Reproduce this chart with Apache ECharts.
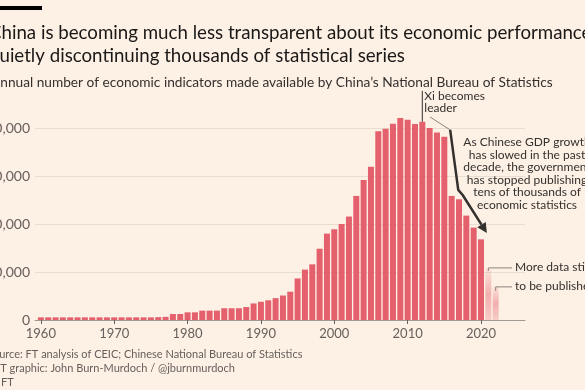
<!DOCTYPE html>
<html><head><meta charset="utf-8">
<script src="https://cdn.jsdelivr.net/npm/echarts@6/dist/echarts.min.js"></script>
<style>html,body{margin:0;padding:0;background:#fdf1e5;}#c{width:585px;height:390px;}</style>
</head><body><div id="c"></div>
<script>
const years = [];
for (let y = 1960; y <= 2022; y++) years.push(y);
const values = [
  1100,1100,1100,1100,1100,1100,1100,1100,1100,1100,
  1100,1100,1100,1100,1100,1100,1200,1300,2500,2500,
  3200,3200,3900,3900,3900,4900,4900,4900,5400,6900,
  7600,8200,9100,10200,11800,17300,21000,23200,29700,36000,
  37800,40000,43100,51700,58300,63900,78600,79700,81800,84200,
  83400,81700,82600,80000,78100,76400,51700,50300,43500,38500,
  33600,21500,14000
];
const provisionalYears = [2021, 2022];
const xTicks = [1960,1970,1980,1990,2000,2010,2020];
const yTicks = [0,20000,40000,60000,80000];

const FONT = 'Lato, "Noto Sans", sans-serif';
const RED = '#e4606d';
const DARK = '#33302e';
const GREY = '#66605c';

const seriesData = years.map((y, i) => {
  const d = { value: [y, values[i]] };
  if (provisionalYears.includes(y)) {
    d.itemStyle = { color: new echarts.graphic.LinearGradient(0,0,0,1,[
      {offset:0, color:'rgba(228,96,109,0.08)'},
      {offset:0.5, color:'rgba(228,96,109,0.45)'},
      {offset:1, color:'rgba(228,96,109,0.25)'}
    ])};
  }
  return d;
});

const chart = echarts.init(document.getElementById('c'));
chart.setOption({
  backgroundColor: '#fdf1e5',
  animation: false,
  grid: { left: 35, right: 60, top: 128, bottom: 70, outerBoundsMode: 'none' },
  xAxis: {
    type: 'value', min: 1959.2, max: 2026,
    splitLine: { show: false },
    axisLine: { show: true, lineStyle: { color: '#a09a94', width: 1 } },
    axisTick: { show: true, customValues: xTicks, length: 4, lineStyle: { color: '#66605c' } },
    axisLabel: { customValues: xTicks, color: GREY, fontFamily: FONT, fontSize: 13, margin: 7, formatter: v => String(v) }
  },
  yAxis: {
    type: 'value', min: yTicks[0], max: yTicks[yTicks.length - 1], interval: 20000,
    axisLine: { show: false }, axisTick: { show: false },
    splitLine: { lineStyle: { color: '#e9ddd1', width: 1 } },
    axisLabel: { color: GREY, fontFamily: FONT, fontSize: 14, margin: 5, formatter: v => v.toLocaleString('en-US') }
  },
  series: [{ type: 'bar', data: seriesData, barWidth: 6, clip: false, itemStyle: { color: RED } }]
});

function P(x, y) { return chart.convertToPixel({ gridIndex: 0 }, [x, y]); }

const g = [];
g.push({ type: 'rect', shape: { x: 0, y: 6, width: 42, height: 4 }, style: { fill: '#000' } });
g.push({ type: 'text', x: -11, y: 23, style: { text: 'China is becoming much less transparent about its economic performance', font: '18.7px ' + FONT, fill: '#1a1817' } });
g.push({ type: 'text', x: -11, y: 46, style: { text: 'quietly discontinuing thousands of statistical series', font: '18.7px ' + FONT, fill: '#1a1817' } });
g.push({ type: 'text', x: -9, y: 76, style: { text: 'Annual number of economic indicators made available by China\u2019s National Bureau of Statistics', font: '13.7px ' + FONT, fill: DARK } });
g.push({ type: 'text', x: -13, y: 349, style: { text: 'Source: FT analysis of CEIC; Chinese National Bureau of Statistics', font: '11px ' + FONT, fill: GREY } });
g.push({ type: 'text', x: -6, y: 363, style: { text: 'FT graphic: John Burn-Murdoch / @jburnmurdoch', font: '11px ' + FONT, fill: GREY } });
g.push({ type: 'text', x: -11, y: 377, style: { text: '\u00a9 FT', font: '11px ' + FONT, fill: GREY } });

const xiTop = P(2012, 95500), xiBot = P(2012, values[years.indexOf(2012)]);
g.push({ type: 'line', shape: { x1: xiTop[0], y1: xiTop[1], x2: xiBot[0], y2: xiBot[1] }, style: { stroke: DARK, lineWidth: 1 } });
g.push({ type: 'text', x: xiTop[0] + 2, y: xiTop[1] - 1, style: { text: 'Xi becomes\nleader', font: '12px ' + FONT, fill: DARK, lineHeight: 12.5 } });

const a0 = P(2013.05, 84600), a1 = P(2015.8, 79200), a2 = P(2016.9, 54200), a3 = P(2017.5, 52100), a4 = P(2020.8, 36250);
g.push({ type: 'polyline', shape: { points: [a0, a1] }, style: { stroke: '#8a837e', lineWidth: 1, fill: null } });
const dx = a4[0] - a3[0], dy = a4[1] - a3[1], L = Math.hypot(dx, dy), ux = dx / L, uy = dy / L;
const hl = 10, hw = 5;
const base = [a4[0] - ux * hl, a4[1] - uy * hl];
g.push({ type: 'polyline', shape: { points: [a1, a2, a3, base] }, style: { stroke: DARK, lineWidth: 2.5, fill: null, lineJoin: 'round' } });
g.push({ type: 'polygon', shape: { points: [a4, [base[0] - uy * hw, base[1] + ux * hw], [base[0] + uy * hw, base[1] - ux * hw]] }, style: { fill: DARK } });
g.push({ type: 'text', x: 527, y: 136, style: { text: 'As Chinese GDP growth\nhas slowed in the past\ndecade, the government\nhas stopped publishing\ntens of thousands of\neconomic statistics', font: '12px ' + FONT, fill: DARK, align: 'center', lineHeight: 12.5 } });

const m1 = P(2021, 21700), m2 = P(2022, 13800);
g.push({ type: 'polyline', shape: { points: [[m1[0], m1[1] + 3], [m1[0], m1[1]], [512, m1[1]]] }, style: { stroke: '#8a837e', lineWidth: 1, fill: null } });
g.push({ type: 'polyline', shape: { points: [[m2[0], m2[1] + 4], [m2[0], m2[1]], [512, m2[1]]] }, style: { stroke: '#8a837e', lineWidth: 1, fill: null } });
g.push({ type: 'text', x: 515, y: m1[1] - 7, style: { text: 'More data still', font: '12px ' + FONT, fill: DARK } });
g.push({ type: 'text', x: 515, y: m2[1] - 7, style: { text: 'to be published', font: '12px ' + FONT, fill: DARK } });

chart.setOption({ graphic: g });
</script></body></html>
